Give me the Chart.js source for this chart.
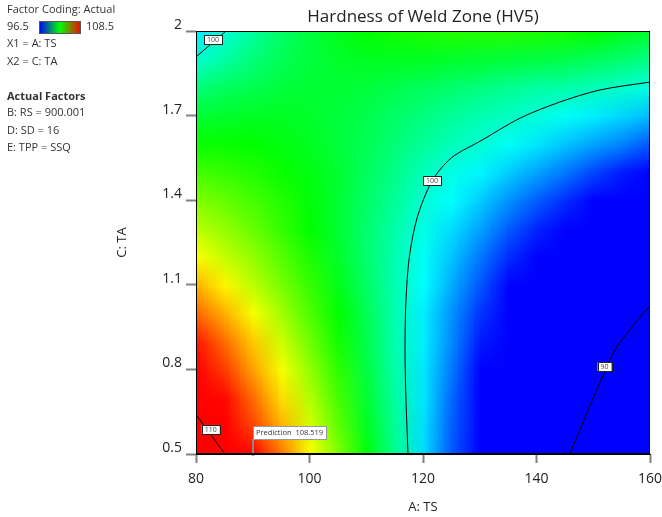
<!DOCTYPE html>
<html><head><meta charset="utf-8">
<script src="https://cdn.jsdelivr.net/npm/chart.js@4.4.1/dist/chart.umd.min.js"></script>
<style>html,body{margin:0;padding:0;background:#fff;}</style>
</head><body>
<canvas id="c" width="662" height="517"></canvas>
<script>
// ---------- data ----------
const tsValues = [80,85,90,95,100,105,110,115,120,125,130,135,140,145,150,155,160];
const taValues = [0.5,0.6,0.7,0.8,0.9,1.0,1.1,1.2,1.3,1.4,1.5,1.6,1.7,1.8,1.9,2.0];
// hardness (HV5), one row per TA value (bottom to top), one column per TS value
const hv_0_5 = [111.5,110.1,108.6,107.1,105.5,104.0,102.4,100.8,99.1,97.5,95.8,94.0,92.3,90.5,88.7,86.9,85.0];
const hv_0_6 = [110.4,109.1,107.7,106.4,105.0,103.6,102.1,100.7,99.1,97.6,96.0,94.4,92.8,91.1,89.4,87.7,85.9];
const hv_0_7 = [109.6,108.4,107.2,105.9,104.6,103.3,101.9,100.6,99.2,97.7,96.3,94.8,93.3,91.7,90.1,88.5,86.9];
const hv_0_8 = [108.9,107.8,106.6,105.4,104.2,103.0,101.7,100.5,99.2,97.9,96.5,95.2,93.8,92.4,90.9,89.4,87.9];
const hv_0_9 = [108.2,107.2,106.1,104.9,103.8,102.7,101.6,100.4,99.3,98.1,96.8,95.6,94.3,93.0,91.7,90.3,88.9];
const hv_1_0 = [107.3,106.4,105.4,104.4,103.4,102.5,101.5,100.4,99.3,98.2,97.1,96.0,94.8,93.6,92.4,91.1,89.8];
const hv_1_1 = [106.4,105.6,104.7,103.9,103.1,102.2,101.3,100.4,99.5,98.5,97.5,96.5,95.4,94.4,93.3,92.1,91.0];
const hv_1_2 = [105.5,104.8,104.2,103.5,102.8,102.0,101.2,100.4,99.6,98.8,97.9,97.0,96.1,95.2,94.3,93.3,92.3];
const hv_1_3 = [104.7,104.2,103.7,103.1,102.5,101.9,101.2,100.5,99.8,99.1,98.4,97.6,96.9,96.1,95.3,94.4,93.6];
const hv_1_4 = [104.0,103.7,103.3,102.9,102.4,101.9,101.3,100.7,100.0,99.5,98.9,98.2,97.6,97.0,96.3,95.6,94.9];
const hv_1_5 = [103.3,103.1,102.9,102.6,102.3,101.9,101.4,100.9,100.3,99.8,99.4,98.9,98.4,97.9,97.3,96.8,96.2];
const hv_1_6 = [102.6,102.6,102.5,102.3,102.1,101.8,101.5,101.1,100.7,100.3,100.0,99.6,99.2,98.8,98.4,98.0,97.5];
const hv_1_7 = [101.9,102.0,102.1,102.1,102.0,101.8,101.6,101.3,101.0,100.7,100.4,100.2,99.9,99.6,99.3,99.0,98.7];
const hv_1_8 = [101.1,101.4,101.6,101.8,101.9,101.9,101.8,101.6,101.4,101.2,101.0,100.8,100.6,100.5,100.3,100.1,99.8];
const hv_1_9 = [100.1,100.6,101.1,101.5,101.8,102.0,102.1,102.1,102.1,102.0,101.9,101.8,101.7,101.6,101.4,101.2,100.9];
const hv_2_0 = [99.3,100.0,100.7,101.3,101.8,102.2,102.5,102.7,102.8,102.9,102.9,102.9,102.8,102.7,102.5,102.2,101.9];
const hardnessRows = [hv_0_5,hv_0_6,hv_0_7,hv_0_8,hv_0_9,hv_1_0,hv_1_1,hv_1_2,hv_1_3,hv_1_4,hv_1_5,hv_1_6,hv_1_7,hv_1_8,hv_1_9,hv_2_0];

const colorMin = 96.5, colorMax = 108.5;
const xTicks = [80,100,120,140,160];
const yTicks = [0.5,0.8,1.1,1.4,1.7,2];
const yTickLabels = ['0.5','0.8','1.1','1.4','1.7','2'];

// contour lines (TS, TA)
const c100MainTS = [117.36,117.0,116.83,117.0,117.6,119.0,121.6,125.0,130.4,137.1,144.1,151.2,160];
const c100MainTA = [0.5,0.691,0.869,1.046,1.2,1.34,1.468,1.55,1.613,1.691,1.748,1.791,1.819];
const c100CornerTS = [80,85.3];
const c100CornerTA = [1.908,2.0];
const c110TS = [80,85.1];
const c110TA = [0.64,0.5];
const c90TS = [145.9,148.25,150.6,152.2,153.8,156.2,158.2,160];
const c90TA = [0.5,0.615,0.727,0.80,0.869,0.934,0.985,1.025];

const contourLabelText = ['100','110','100','90'];
const contourLabelTS = [83.0,82.6,121.6,152.0];
const contourLabelTA = [1.970,0.587,1.470,0.810];

const predTS = 90, predTA = 0.5, predValue = '108.519';

const legendLines = ['X1 = A: TS','X2 = C: TA'];
const actualFactors = ['B: RS = 900.001','D: SD = 16','E: TPP = SSQ'];

// ---------- helpers ----------
const FONT = "'Open Sans', 'Noto Sans', sans-serif";
function colorFor(v){
  let t = (v - colorMin) / (colorMax - colorMin);
  t = Math.max(0, Math.min(1, t));
  const stops = [[0,0,255],[0,255,255],[0,255,0],[255,255,0],[255,0,0]];
  const p = t * 4;
  const i = Math.min(3, Math.floor(p));
  const f = p - i;
  return stops[i].map((c,k)=>Math.round(c + (stops[i+1][k]-c)*f));
}
function pts(xs, ys){ return xs.map((x,i)=>({x:x, y:ys[i]})); }

const heatmapPlugin = {
  id:'heatmap',
  beforeDatasetsDraw(chart){
    const {ctx, chartArea:a, scales:{x, y}} = chart;
    const cols = tsValues.length, rows = taValues.length;
    const off = document.createElement('canvas');
    off.width = cols; off.height = rows;
    const octx = off.getContext('2d');
    const img = octx.createImageData(cols, rows);
    for (let r=0;r<rows;r++){
      for (let c=0;c<cols;c++){
        const rgb = colorFor(hardnessRows[r][c]);
        const idx = ((rows-1-r)*cols + c)*4;
        img.data[idx]=rgb[0]; img.data[idx+1]=rgb[1]; img.data[idx+2]=rgb[2]; img.data[idx+3]=255;
      }
    }
    octx.putImageData(img,0,0);
    const dx = (tsValues[1]-tsValues[0])/2, dy = (taValues[1]-taValues[0])/2;
    const x0 = x.getPixelForValue(tsValues[0]-dx), x1 = x.getPixelForValue(tsValues[cols-1]+dx);
    const yT = y.getPixelForValue(taValues[rows-1]+dy), yB = y.getPixelForValue(taValues[0]-dy);
    ctx.save();
    ctx.beginPath(); ctx.rect(a.left, a.top, a.right-a.left, a.bottom-a.top); ctx.clip();
    ctx.imageSmoothingEnabled = true;
    ctx.drawImage(off, x0, yT, x1-x0, yB-yT);
    ctx.restore();
  },
  afterDatasetsDraw(chart){
    const {ctx, chartArea:a, scales:{x, y}} = chart;
    ctx.save();
    // contour labels
    ctx.font = "7px " + FONT;
    ctx.textAlign='center'; ctx.textBaseline='middle';
    contourLabelText.forEach((t,i)=>{
      const px = x.getPixelForValue(contourLabelTS[i]), py = y.getPixelForValue(contourLabelTA[i]);
      const w = ctx.measureText(t).width + 6, h = 9;
      ctx.fillStyle='#fff'; ctx.fillRect(px-w/2, py-h/2, w, h);
      ctx.strokeStyle='#222'; ctx.lineWidth=1; ctx.strokeRect(Math.round(px-w/2)+0.5, Math.round(py-h/2)+0.5, Math.round(w), h);
      ctx.fillStyle='#444'; ctx.fillText(t, px, py+0.5);
    });
    // prediction flag
    const ppx = Math.round(x.getPixelForValue(predTS)), ppy = y.getPixelForValue(predTA);
    ctx.strokeStyle='#8a8a8a'; ctx.lineWidth=2;
    ctx.beginPath(); ctx.moveTo(ppx, ppy); ctx.lineTo(ppx, ppy-15); ctx.stroke();
    ctx.fillStyle='#8a8a8a'; ctx.beginPath(); ctx.arc(ppx, ppy, 2, 0, Math.PI*2); ctx.fill();
    ctx.font = "7.5px " + FONT;
    const label = 'Prediction  ' + predValue;
    const bw = Math.round(ctx.measureText(label).width + 6), bh = 13;
    const bx = ppx, by = Math.round(ppy - 28);
    ctx.fillStyle='#c8c8c8'; ctx.fillRect(bx+1, by+1, bw, bh);
    ctx.fillStyle='#fff'; ctx.fillRect(bx, by, bw, bh);
    ctx.strokeStyle='#999'; ctx.lineWidth=1; ctx.strokeRect(bx+0.5, by+0.5, bw, bh);
    ctx.fillStyle='#333'; ctx.textAlign='left'; ctx.textBaseline='middle';
    ctx.fillText(label, bx+3, by+bh/2+0.5);
    // frame
    ctx.strokeStyle='#000'; ctx.lineWidth=1;
    ctx.strokeRect(Math.round(a.left)+0.5, Math.round(a.top)+0.5, Math.round(a.right-a.left)-1, Math.round(a.bottom-a.top)-1);
    ctx.restore();
  },
  afterDraw(chart){
    const ctx = chart.ctx;
    ctx.save();
    ctx.fillStyle='#333'; ctx.textAlign='left'; ctx.textBaseline='middle';
    ctx.font = "11px " + FONT;
    ctx.fillText('Factor Coding: Actual', 7, 10);
    ctx.fillText(String(colorMin), 7, 27);
    ctx.fillText(String(colorMax), 86, 27);
    const g = ctx.createLinearGradient(39,0,81,0);
    g.addColorStop(0,'#0000ff'); g.addColorStop(0.5,'#00ff00'); g.addColorStop(1,'#ff0000');
    ctx.fillStyle=g; ctx.fillRect(39,21,42,13);
    ctx.strokeStyle='#555'; ctx.lineWidth=1; ctx.strokeRect(39.5,21.5,41,12);
    ctx.fillStyle='#333';
    ctx.fillText(legendLines[0], 7, 44);
    ctx.fillText(legendLines[1], 7, 62);
    ctx.font = "bold 11px " + FONT;
    ctx.fillText('Actual Factors', 7, 97);
    ctx.font = "11px " + FONT;
    ctx.fillText(actualFactors[0], 7, 113);
    ctx.fillText(actualFactors[1], 7, 131);
    ctx.fillText(actualFactors[2], 7, 148);
    ctx.restore();
  }
};

const lineStyle = {showLine:true, borderColor:'#000', borderWidth:1, pointRadius:0, tension:0.3, fill:false};

new Chart(document.getElementById('c'), {
  type:'scatter',
  data:{ datasets:[
    Object.assign({label:'100', data:pts(c100MainTS,c100MainTA)}, lineStyle),
    Object.assign({label:'100b', data:pts(c100CornerTS,c100CornerTA)}, lineStyle),
    Object.assign({label:'110', data:pts(c110TS,c110TA)}, lineStyle),
    Object.assign({label:'90', data:pts(c90TS,c90TA)}, lineStyle)
  ]},
  options:{
    responsive:false, animation:false, events:[],
    layout:{padding:{left:0,right:12,top:0,bottom:0}},
    plugins:{
      legend:{display:false}, tooltip:{enabled:false},
      title:{display:true, text:'Hardness of Weld Zone (HV5)', fullSize:false, color:'#222',
        font:{family:FONT, size:17, weight:'normal'}, padding:{top:7,bottom:3.6}}
    },
    scales:{
      x:{type:'linear', min:80, max:160,
        afterBuildTicks:(s)=>{ s.ticks = xTicks.map(v=>({value:v})); },
        afterFit:(s)=>{ s.height = 63; s.paddingRight = 0; s.paddingLeft = 0; },
        ticks:{color:'#222', font:{family:FONT, size:14}, padding:8, callback:(v)=>String(v)},
        grid:{drawOnChartArea:false, drawTicks:true, tickLength:9, tickColor:'#808080', tickWidth:2},
        border:{display:true, color:'#000', width:1, z:1},
        title:{display:true, text:'A: TS', color:'#222', font:{family:FONT, size:13}, padding:{top:0,bottom:2}}
      },
      y:{type:'linear', min:0.5, max:2,
        afterBuildTicks:(s)=>{ s.ticks = yTicks.map(v=>({value:v})); },
        afterFit:(s)=>{ s.width = 196; s.paddingTop = 0; s.paddingBottom = 0; },
        ticks:{color:'#222', font:{family:FONT, size:14}, padding:4, labelOffset:-6,
          callback:(v,i)=>yTickLabels[i]},
        grid:{drawOnChartArea:false, drawTicks:true, tickLength:10, tickColor:'#808080', tickWidth:2},
        border:{display:true, color:'#000', width:1, z:1},
        title:{display:true, text:'C: TA', color:'#222', font:{family:FONT, size:13}, padding:{top:114,bottom:0}}
      }
    }
  },
  plugins:[heatmapPlugin]
});
</script>
</body></html>
